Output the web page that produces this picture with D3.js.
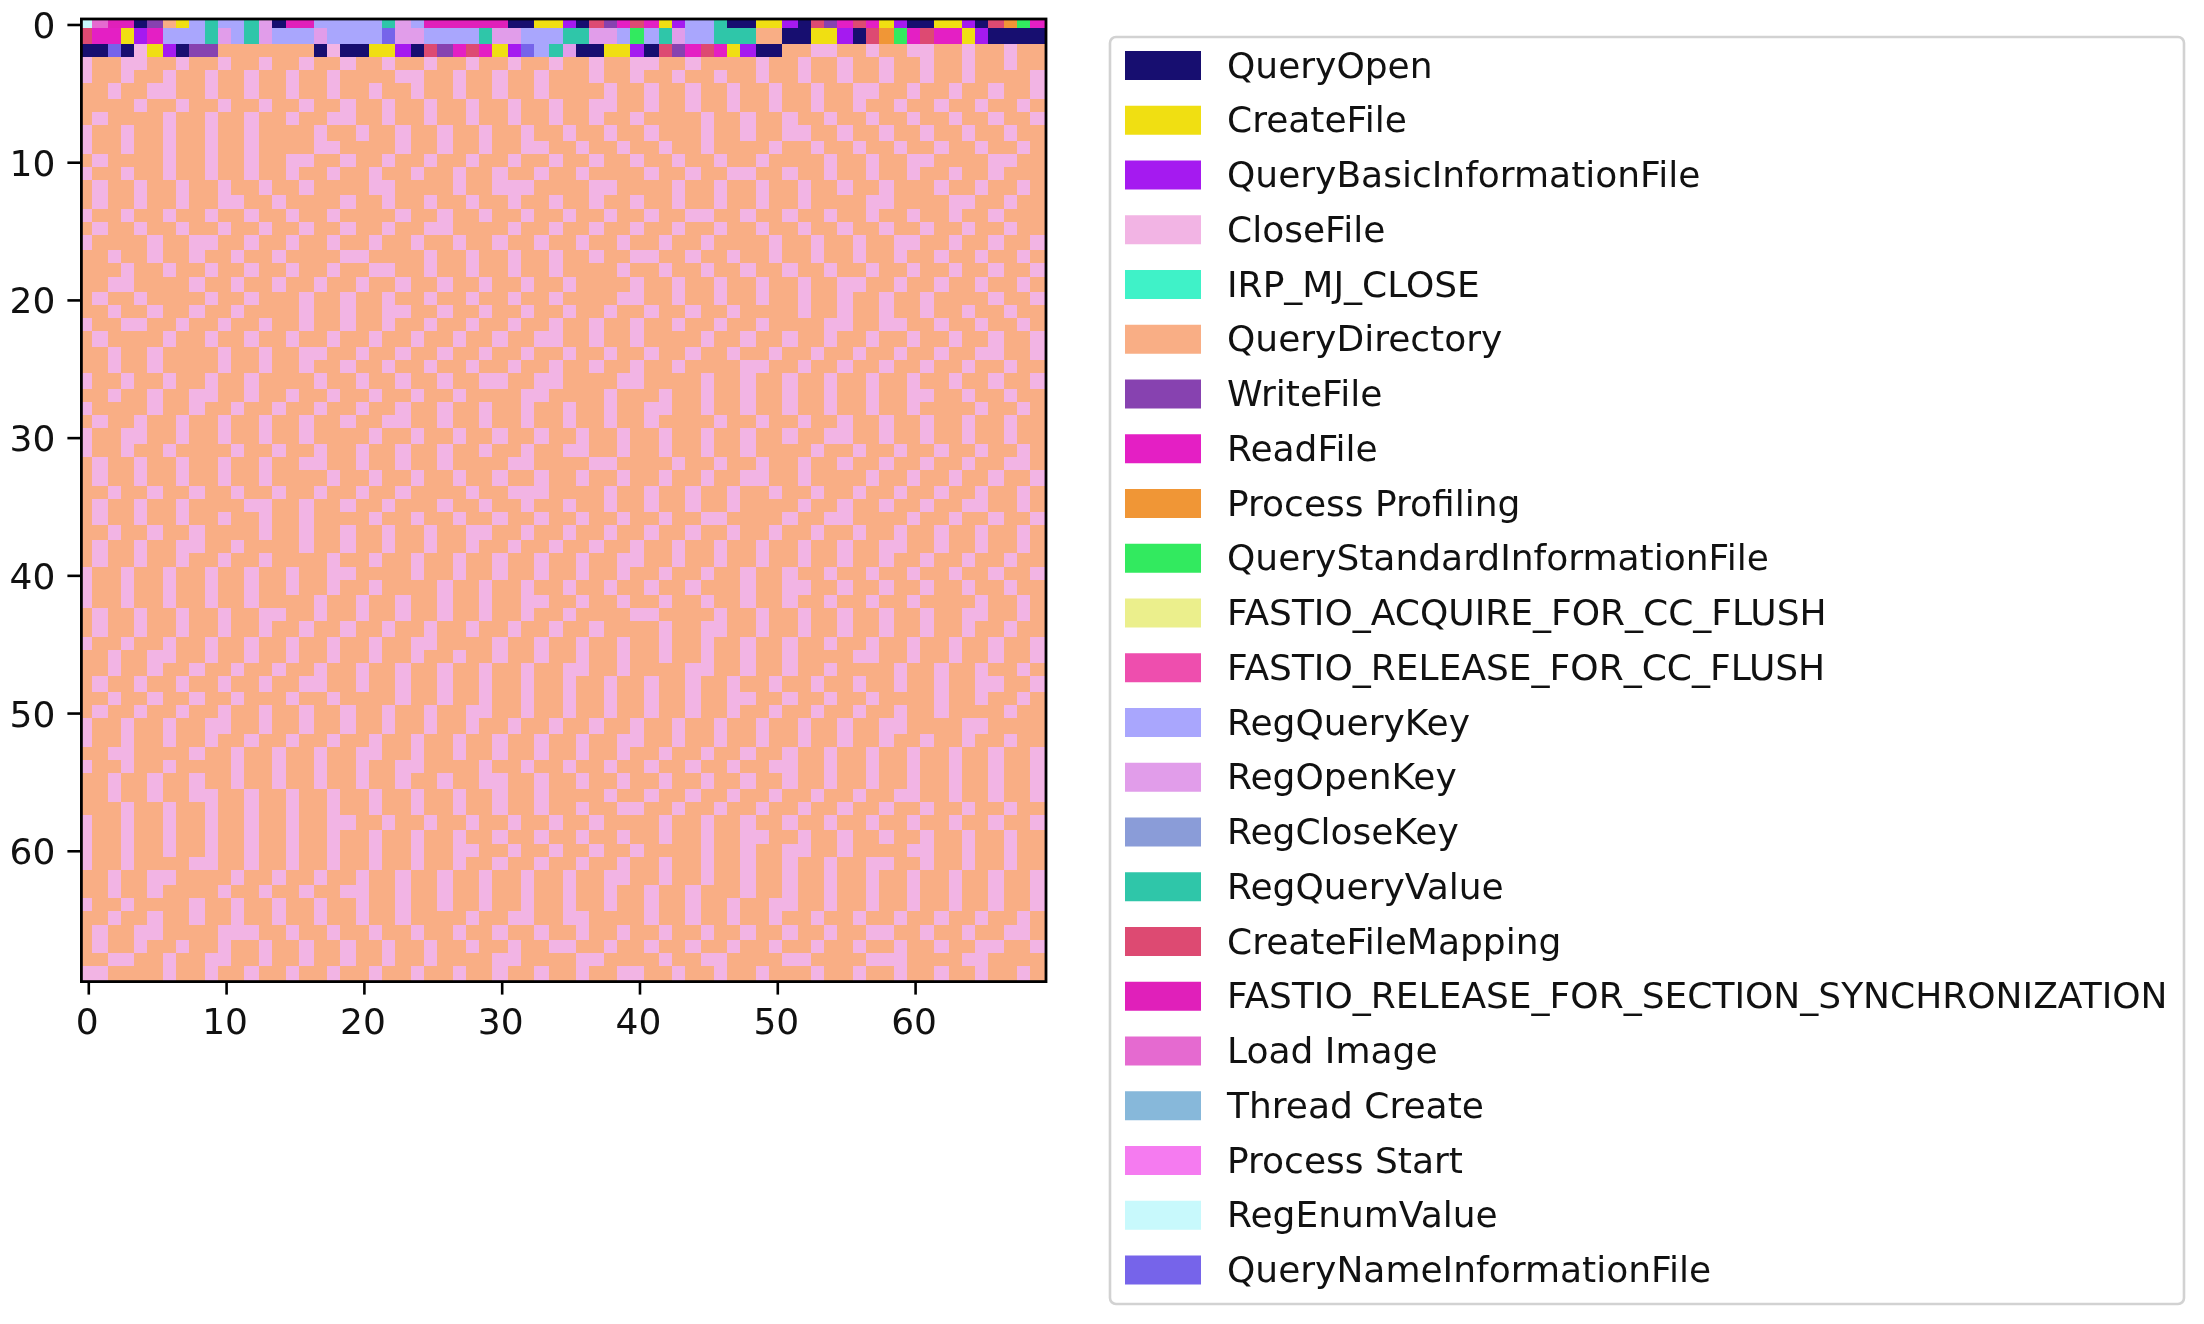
<!DOCTYPE html>
<html>
<head>
<meta charset="utf-8">
<script src="https://cdn.jsdelivr.net/npm/d3@7"></script>
<style>
  html, body { margin: 0; background: #fff; }
  svg { display: block; }
  text { font-family: "DejaVu Sans", sans-serif; fill: #111; }
  .blurred { filter: blur(0.7px); }
</style>
</head>
<body>
<svg id="chart" width="2204" height="1324"></svg>
<script>
// legend order, index in this list is the value stored in the grid
const operations = ["QueryOpen", "CreateFile", "QueryBasicInformationFile", "CloseFile", "IRP_MJ_CLOSE",
  "QueryDirectory", "WriteFile", "ReadFile", "Process Profiling", "QueryStandardInformationFile",
  "FASTIO_ACQUIRE_FOR_CC_FLUSH", "FASTIO_RELEASE_FOR_CC_FLUSH", "RegQueryKey", "RegOpenKey", "RegCloseKey",
  "RegQueryValue", "CreateFileMapping", "FASTIO_RELEASE_FOR_SECTION_SYNCHRONIZATION", "Load Image",
  "Thread Create", "Process Start", "RegEnumValue", "QueryNameInformationFile"];

const operationColors = ["#170e70", "#f0df12", "#a51af0", "#f2b4e4", "#3ff2c8", "#f9ae85", "#8742b0", "#e41fc4",
  "#f09636", "#32ea5f", "#ebef8c", "#ee4eae", "#a9a6fd", "#e19dea", "#8a9cd8", "#2fc6a9", "#dd4a72", "#e020ba",
  "#e56ad0", "#87b8da", "#f57bf0", "#c8f9fc", "#7664ea"];

const tickValues = [0, 10, 20, 30, 40, 50, 60];

// first three rows are the mixed ones
const row0 = [21,18,17,17,0,6,5,1,12,15, 12,12,15,13,0,17,17,12,12,12, 12,12,15,13,12,17,17,17,17,17,
  17,0,0,1,1,2,0,16,6,7, 16,7,1,2,12,12,15,0,0,1, 1,2,0,16,6,7,16,7,1,2, 0,0,1,1,2,0,16,8,9,7];
const row1 = [16,7,7,1,2,7,12,12,12,15, 13,12,15,13,12,12,12,13,12,12, 12,12,22,13,13,12,12,12,12,15,
  13,13,12,12,12,15,15,13,13,12, 9,12,15,13,12,12,15,15,15,5, 5,0,0,1,1,2,0,16,8,9, 7,16,7,7,1,2,0,0,0,0];
const row2 = [0,0,22,0,3,1,2,0,6,6, 5,5,5,5,5,5,5,0,3,0, 0,1,1,2,0,16,6,7,16,7,
  1,2,22,12,15,13,0,0,1,1, 2,0,16,6,7,16,7,1,2,0, 0,5,5,3,3,5,5,3,5,5, 3,3,5,5,3,5,5,3,5,5];

// rows 3 to 69: columns holding CloseFile, the rest is QueryDirectory
const closeFileCols = [
  [0,3,4,7,10,13,16,19,22,25,28,31,34,37,40,41,44,49,52,55,58,61,64,67],
  [0,3,6,9,12,15,18,23,24,27,30,33,37,40,43,46,49,52,55,58,61,64,69],
  [2,5,6,9,12,15,18,21,24,27,30,33,38,41,44,47,50,53,56,57,60,63,66,69],
  [4,7,10,13,16,19,22,25,28,31,34,37,38,41,44,47,50,53,56,59,62,65,68],
  [1,6,9,12,15,18,19,22,25,28,31,34,37,40,45,48,51,54,57,60,63,66,69],
  [0,3,6,9,12,17,20,23,26,29,32,35,38,41,45,48,51,52,55,58,61,64,67],
  [0,3,6,9,12,17,18,23,26,29,32,33,36,39,42,45,50,53,56,59,62,65,68],
  [1,6,9,12,15,16,19,22,25,28,31,34,37,40,43,46,49,54,57,60,61,66,67],
  [0,3,6,9,12,15,18,21,24,27,30,33,36,41,44,47,48,51,54,57,60,63,66],
  [1,4,7,10,13,16,21,22,27,30,31,32,37,38,43,46,49,52,55,58,62,65,68],
  [1,4,7,10,11,14,19,22,25,28,31,34,37,40,43,46,49,52,57,58,63,64,67],
  [0,3,6,9,12,15,18,23,26,29,32,35,38,41,44,45,48,51,54,57,60,63,66],
  [1,4,7,10,13,16,19,22,25,26,31,34,37,40,43,46,49,52,55,58,61,64,67],
  [0,5,8,9,12,15,18,21,24,27,30,33,36,39,42,45,50,53,56,59,60,63,66,69],
  [2,5,8,11,14,19,20,25,28,31,34,37,40,41,44,47,50,53,56,59,62,65,68],
  [3,6,9,12,15,18,21,22,25,28,31,34,39,42,45,48,51,54,57,60,63,66,69],
  [2,3,8,11,14,17,20,23,26,29,32,35,40,43,46,49,52,55,56,59,62,65,68],
  [1,4,9,12,16,19,22,25,28,31,34,39,40,43,46,49,52,55,58,61,66,69],
  [2,5,8,11,16,19,22,23,26,29,32,35,38,41,44,47,52,55,58,61,64,67],
  [0,3,4,7,10,13,16,19,22,25,28,31,34,37,40,43,46,49,54,55,58,59,62,65,68],
  [1,6,9,12,15,18,21,24,27,30,33,34,37,40,45,48,51,54,57,60,63,66,69],
  [2,5,10,13,16,17,20,23,26,29,32,35,38,41,44,47,50,53,56,59,62,65,66,69],
  [2,5,10,13,16,19,22,25,28,31,34,37,40,43,48,49,52,55,58,61,64,67],
  [0,3,6,9,12,17,20,23,26,29,30,33,34,39,40,45,48,51,54,57,60,63,66,69],
  [2,5,8,9,12,15,18,21,24,27,32,33,38,42,45,48,51,54,57,60,61,64,67],
  [0,5,8,11,14,17,20,23,26,29,32,35,38,41,42,45,48,51,54,57,60,65,68],
  [1,4,7,10,13,16,19,22,23,26,29,32,35,38,41,46,49,52,55,58,61,64,67],
  [0,3,4,7,10,13,16,21,24,27,30,33,36,39,42,45,48,51,54,55,58,61,64,67],
  [0,3,6,11,14,17,20,23,26,29,32,35,36,39,42,45,48,53,56,59,62,65,68],
  [1,4,7,10,13,16,17,20,23,26,31,32,37,38,43,46,49,52,55,58,61,64,67,68],
  [1,4,7,10,13,18,21,24,27,30,33,36,39,42,45,48,49,52,57,60,63,66,69],
  [2,5,8,11,14,17,20,23,28,31,32,33,38,41,44,47,50,53,56,59,62,65,68],
  [1,4,7,12,13,16,19,22,26,29,32,35,38,41,44,47,52,55,58,61,64,65,68],
  [1,4,7,10,13,16,21,24,27,30,33,36,39,42,45,46,51,54,55,60,63,66,69],
  [2,5,8,13,16,19,22,25,28,29,32,35,38,41,44,47,50,53,56,59,62,65,68],
  [1,4,7,8,11,16,19,22,25,28,31,34,37,40,43,46,49,52,55,58,59,62,65,68],
  [1,4,7,10,13,18,21,24,27,30,33,36,39,40,43,46,49,52,55,58,61,64,67],
  [0,3,6,9,12,15,18,19,24,27,30,33,36,39,42,45,48,51,54,57,60,63,66,69],
  [0,3,6,9,12,15,18,21,26,29,32,35,38,41,44,48,51,52,55,58,61,64,67],
  [0,3,6,9,12,17,20,23,26,29,32,33,36,39,42,45,48,51,54,57,60,65,68],
  [1,4,7,10,13,14,17,20,23,26,29,32,35,40,41,46,49,52,55,58,61,64,65,68],
  [1,4,7,10,13,16,19,22,25,28,31,34,37,42,45,46,49,52,55,58,61,64,67],
  [0,3,6,9,12,15,18,21,24,25,30,33,36,39,42,45,48,51,54,57,60,63,66,69],
  [2,5,6,9,12,15,18,21,24,27,30,33,36,39,42,45,48,51,56,57,60,63,66,69],
  [2,5,8,11,14,17,20,23,26,29,32,35,36,39,44,45,48,51,54,59,62,65,68],
  [1,4,7,10,13,16,17,20,23,26,29,32,35,38,41,44,47,50,53,56,59,62,65,66,69],
  [2,5,8,11,15,18,23,26,29,32,35,38,41,44,47,48,51,54,57,62,65,68],
  [1,4,7,10,13,16,19,22,25,28,29,32,35,38,41,44,47,50,53,56,59,62,67],
  [0,3,6,9,10,13,16,19,22,25,28,31,34,37,40,43,46,49,52,55,58,59,64,65],
  [0,3,6,9,12,15,18,21,24,27,30,33,36,39,40,43,46,49,52,55,58,61,64,67],
  [2,3,8,11,14,17,20,21,24,27,30,33,36,39,42,45,48,51,54,57,60,63,66,69],
  [0,3,6,11,14,17,20,23,24,29,32,35,38,41,44,47,50,51,54,57,60,63,66,69],
  [2,5,8,11,14,17,20,23,26,29,30,33,36,39,42,45,48,51,54,57,60,63,66,69],
  [2,5,8,9,12,15,18,21,24,27,30,33,38,41,44,47,50,53,56,59,60,63,66,69],
  [3,6,9,12,15,18,21,24,27,30,33,36,39,40,43,46,49,52,55,58,61,64,67],
  [0,3,6,9,12,15,18,19,22,25,28,31,34,37,42,45,48,51,54,57,60,63,66,69],
  [0,3,6,9,12,15,18,21,24,27,30,33,36,39,42,45,48,49,52,55,58,61,64,67],
  [0,3,6,9,12,15,18,21,24,27,28,31,34,37,40,45,48,51,52,55,60,61,64,67],
  [0,3,8,9,12,15,18,21,24,27,30,33,36,39,42,45,48,51,54,57,58,61,64,67],
  [2,5,6,11,14,17,20,23,26,29,32,35,38,39,42,45,48,51,54,57,60,63,66,69],
  [2,5,10,13,16,19,20,23,26,29,32,35,38,41,44,48,51,54,57,60,63,66,69],
  [0,3,8,11,14,17,20,23,26,29,32,35,38,41,44,47,50,51,54,57,60,63,66,69],
  [2,5,8,11,14,17,20,23,28,31,32,35,36,41,44,47,50,53,56,59,62,65,68],
  [1,4,5,10,11,12,15,18,21,24,27,30,33,36,39,42,45,48,51,54,57,58,61,64,67,68],
  [1,4,7,10,13,16,19,22,25,28,31,34,35,38,41,44,47,50,53,56,59,62,65,66,69],
  [2,3,6,9,10,13,16,19,22,25,30,31,36,37,42,45,46,51,52,57,58,59,64,65],
  [0,1,6,9,12,15,18,21,24,27,30,33,36,39,40,43,46,49,53,56,59,62,65,68]
];

const CLOSE_FILE = operations.indexOf("CloseFile");
const QUERY_DIRECTORY = operations.indexOf("QueryDirectory");

let grid = [row0, row1, row2].map((r) => r.slice());
closeFileCols.forEach((cols) => {
  grid.push(d3.range(70).map((c) => (cols.includes(c) ? CLOSE_FILE : QUERY_DIRECTORY)));
});

const cells = [];
grid.forEach((r, i) => r.forEach((v, j) => cells.push({row: i, col: j, value: v})));

const svg = d3.select("#chart");

// axes box and tick positions
const box = {left: 81.4, right: 1046, top: 19, bottom: 981.6};
const xAxisScale = d3.scaleLinear().domain([-0.5, 69.5]).range([box.left, box.right]);
const yAxisScale = d3.scaleLinear().domain([-0.5, 69.5]).range([17.6, box.bottom]);

// the picture was upscaled from a smaller raster, so cell edges land on its coarse pixels
const srcPixel = 2.613;
const srcCell = d3.scaleLinear().domain([0, 70]).range([0, 369.6]);
const xEdge = (i) => 79.1 + srcPixel * Math.round(srcCell(i));
const yEdge = (i) => 15.2 + srcPixel * Math.round(srcCell(i));

const color = d3.scaleOrdinal().domain(d3.range(operations.length)).range(operationColors);

svg.append("clipPath").attr("id", "axes-clip").append("rect")
    .attr("x", box.left).attr("y", box.top)
    .attr("width", box.right - box.left).attr("height", box.bottom - box.top);

svg.append("g").attr("clip-path", "url(#axes-clip)")
    .attr("shape-rendering", "crispEdges")
  .selectAll("rect")
    .data(cells)
  .join("rect")
    .attr("x", (d) => xEdge(d.col))
    .attr("y", (d) => yEdge(d.row))
    .attr("width", (d) => xEdge(d.col + 1) - xEdge(d.col))
    .attr("height", (d) => yEdge(d.row + 1) - yEdge(d.row))
    .attr("fill", (d) => color(d.value));

const decor = svg.append("g").attr("class", "blurred");

decor.append("rect")
    .attr("x", box.left).attr("y", box.top)
    .attr("width", box.right - box.left).attr("height", box.bottom - box.top)
    .attr("fill", "none").attr("stroke", "#000").attr("stroke-width", 2.8);

const xAxis = d3.axisBottom(xAxisScale).tickValues(tickValues).tickSize(13).tickPadding(14).tickSizeOuter(0);
const yAxis = d3.axisLeft(yAxisScale).tickValues(tickValues).tickSize(14).tickPadding(12).tickSizeOuter(0);

const xAxisG = decor.append("g").attr("transform", `translate(0,${box.bottom})`).call(xAxis);
const yAxisG = decor.append("g").attr("transform", `translate(${box.left},0)`).call(yAxis);

[xAxisG, yAxisG].forEach((g) => {
  g.select(".domain").remove();
  g.selectAll("line").attr("stroke", "#000").attr("stroke-width", 2.6);
  g.selectAll("text").style("font-size", "36px").style("font-family", '"DejaVu Sans"').attr("fill", "#111");
});

// labels sit a touch off the ticks in the reference
xAxisG.selectAll("text").attr("dx", -1.5);
yAxisG.selectAll("text").attr("dy", "0.36em");

// legend
decor.append("rect")
    .attr("x", 1110).attr("y", 37).attr("width", 1074).attr("height", 1267).attr("rx", 6)
    .attr("fill", "#fff").attr("stroke", "#d2d2d2").attr("stroke-width", 2.6);

const legendY = d3.scaleLinear().domain([0, operations.length - 1]).range([65.5, 65.5 + 22 * 54.75]);

const legendRows = svg.append("g").selectAll("g")
    .data(operations)
  .join("g")
    .attr("transform", (d, i) => `translate(0,${legendY(i)})`);

legendRows.append("rect")
    .attr("x", 1125).attr("y", -14.5).attr("width", 76).attr("height", 29)
    .attr("fill", (d, i) => operationColors[i]);

legendRows.append("text")
    .attr("class", "blurred")
    .attr("x", 1227).attr("y", -0.8).attr("dy", "0.36em")
    .style("font-size", "36px")
    .text((d) => d);
</script>
</body>
</html>
